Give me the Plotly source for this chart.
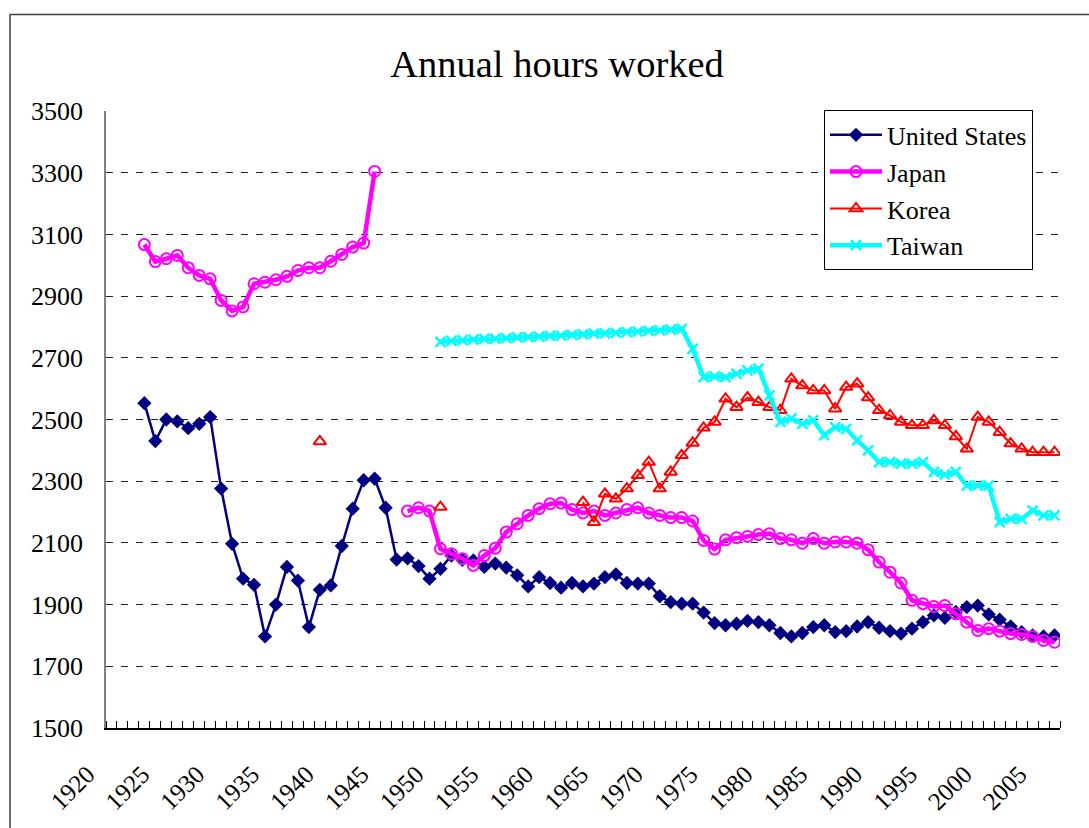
import plotly.graph_objects as go

# ---------------- data ----------------
years = list(range(1920, 2007))  # category axis 1920..2006

us_start = 1923
us_hours = [2553, 2430, 2500, 2494, 2472, 2486, 2508, 2276, 2097, 1984,
            1964, 1797, 1900, 2022, 1978, 1827, 1948, 1962, 2090, 2211,
            2303, 2308, 2214, 2046, 2050, 2025, 1984, 2016, 2059, 2045,
            2043, 2022, 2033, 2020, 1995, 1959, 1989, 1970, 1955, 1970,
            1959, 1968, 1989, 1998, 1970, 1968, 1968, 1927, 1908, 1903,
            1903, 1874, 1840, 1833, 1838, 1847, 1843, 1833, 1808, 1797,
            1808, 1827, 1833, 1811, 1814, 1829, 1843, 1825, 1814, 1806,
            1822, 1843, 1865, 1857, 1876, 1892, 1897, 1868, 1851, 1829,
            1811, 1800, 1797, 1800]

japan_prewar_start = 1923
japan_prewar = [3067, 3012, 3021, 3032, 2992, 2967, 2956, 2886, 2852, 2865,
                2940, 2945, 2953, 2964, 2983, 2992, 2992, 3013, 3035, 3059,
                3072, 3304]
japan_postwar_start = 1947
japan_postwar = [2203, 2214, 2203, 2081, 2065, 2049, 2027, 2059, 2083, 2135,
                 2162, 2189, 2211, 2227, 2229, 2208, 2197, 2203, 2189, 2197,
                 2208, 2214, 2197, 2189, 2182, 2182, 2171, 2108, 2080, 2110,
                 2117, 2121, 2127, 2130, 2114, 2110, 2099, 2114, 2099, 2103,
                 2103, 2099, 2078, 2038, 2005, 1970, 1914, 1903, 1894, 1897,
                 1870, 1843, 1816, 1822, 1814, 1806, 1803, 1797, 1784, 1778]

korea_isolated_years = [1939, 1950]
korea_isolated = [2429, 2216]
korea_start = 1963
korea_hours = [2232, 2167, 2259, 2243, 2276, 2319, 2362, 2276, 2330, 2384,
               2424, 2473, 2492, 2567, 2540, 2571, 2556, 2540, 2530, 2632,
               2610, 2594, 2594, 2535, 2605, 2616, 2571, 2530, 2513, 2492,
               2481, 2481, 2497, 2481, 2445, 2405, 2508, 2492, 2459, 2422,
               2405, 2394, 2394, 2394]

taiwan_start = 1950
taiwan_hours = [2752, 2755, 2757, 2759, 2761, 2762, 2764, 2766, 2767, 2769,
                2771, 2772, 2774, 2776, 2778, 2779, 2781, 2783, 2785, 2787,
                2789, 2791, 2794, 2729, 2637, 2640, 2637, 2648, 2659, 2665,
                2578, 2492, 2503, 2486, 2497, 2449, 2475, 2470, 2432, 2400,
                2362, 2362, 2357, 2357, 2362, 2330, 2322, 2330, 2286, 2286,
                2286, 2167, 2178, 2178, 2205, 2189, 2189]

tick_years = list(range(1920, 2006, 5))


def on_axis(start, values):
    """Place a run of values on the full year axis (None elsewhere)."""
    out = [None] * len(years)
    for i, v in enumerate(values):
        out[years.index(start + i)] = v
    return out


us_full = on_axis(us_start, us_hours)
japan_full = on_axis(japan_prewar_start, japan_prewar)
for i, v in enumerate(on_axis(japan_postwar_start, japan_postwar)):
    if v is not None:
        japan_full[i] = v
korea_full = on_axis(korea_start, korea_hours)
for y, v in zip(korea_isolated_years, korea_isolated):
    korea_full[years.index(y)] = v
taiwan_full = on_axis(taiwan_start, taiwan_hours)

FONT = "Liberation Serif"

fig = go.Figure()
fig.add_trace(go.Scatter(
    x=years, y=us_full, name="United States", mode="lines+markers",
    connectgaps=False,
    line=dict(color="#000080", width=2.5),
    marker=dict(symbol="diamond", size=11, color="#000080",
                line=dict(width=0))))
fig.add_trace(go.Scatter(
    x=years, y=japan_full, name="Japan", mode="lines+markers",
    connectgaps=False,
    line=dict(color="#FF00FF", width=4.5),
    marker=dict(symbol="circle-open", size=11, color="#FF00FF",
                line=dict(width=2, color="#FF00FF"))))
fig.add_trace(go.Scatter(
    x=years, y=korea_full, name="Korea", mode="lines+markers",
    connectgaps=False,
    line=dict(color="#FF0000", width=2),
    marker=dict(symbol="triangle-up-open", size=11, color="#FF0000",
                line=dict(width=2, color="#FF0000"))))
fig.add_trace(go.Scatter(
    x=years, y=taiwan_full, name="Taiwan", mode="lines+markers",
    connectgaps=False,
    line=dict(color="#00FFFF", width=4.5),
    marker=dict(symbol="x-thin-open", size=10, color="#00FFFF",
                line=dict(width=2.5, color="#00FFFF"))))

L, R, T, B = 106, 29, 110.6, 100.4
W, H = 1089, 828
pw, ph = W - L - R, H - T - B


def px_x(p):
    return (p - L) / pw


def px_y(p):
    return (H - B - p) / ph


# outer chart-area frame (partly outside the picture, as in the reference)
fig.add_shape(type="rect", xref="paper", yref="paper",
              x0=px_x(10), x1=px_x(1104), y0=px_y(845), y1=px_y(14),
              line=dict(color="#404040", width=1.5), layer="below")

fig.update_layout(
    width=W, height=H,
    margin=dict(l=L, r=R, t=T, b=B, pad=0),
    paper_bgcolor="white", plot_bgcolor="white",
    font=dict(family=FONT, size=26, color="black"),
    title=dict(text="Annual hours worked", x=557 / W, xref="container",
               xanchor="center", y=1 - 64 / H, yref="container",
               yanchor="middle", font=dict(family=FONT, size=38.5,
                                           color="black")),
    showlegend=True,
    legend=dict(x=px_x(824), y=px_y(110), xanchor="left", yanchor="top",
                bgcolor="white", bordercolor="black", borderwidth=1,
                font=dict(family=FONT, size=26, color="black"),
                tracegroupgap=0, itemwidth=52),
)

fig.update_xaxes(
    range=[1919.5, 2006.5], showgrid=False, zeroline=False,
    tickmode="array", tickvals=tick_years,
    ticktext=[str(y) for y in tick_years], tickangle=-45,
    ticks="", showline=True, linecolor="black", linewidth=1.5,
    ticklabelshift=-24, ticklabelstandoff=20,
    tickfont=dict(family=FONT, size=25, color="black"),
    minor=dict(ticks="inside", ticklen=7, tickcolor="black", tickwidth=1,
               tick0=1919.5, dtick=1, showgrid=False),
)
fig.update_yaxes(
    range=[1500, 3500], dtick=200, tick0=1500, showgrid=True,
    gridcolor="#222222", gridwidth=1, griddash="7px,8px",
    zeroline=False, showline=True, linecolor="#808080", linewidth=1.5,
    ticks="", ticklabelstandoff=16,
    tickfont=dict(family=FONT, size=26, color="black"),
)

fig.write_html("out.html", config={"displayModeBar": False},
               post_script="document.body.style.margin='0';")
